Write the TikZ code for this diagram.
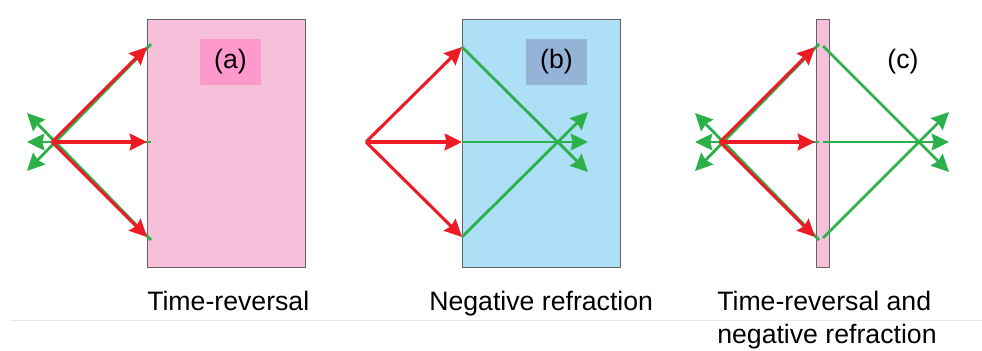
\documentclass[tikz,border=0pt]{standalone}
\usepackage{fontspec}
\setmainfont{Liberation Sans}
\usetikzlibrary{arrows.meta}
\definecolor{rayR}{RGB}{237, 28, 36}
\definecolor{rayG}{RGB}{43, 176, 74}
\definecolor{slabPink}{RGB}{246, 192, 218}
\definecolor{tagPink}{RGB}{255, 153, 204}
\definecolor{slabBlue}{RGB}{173, 223, 247}
\definecolor{tagBlue}{RGB}{149, 179, 215}
\definecolor{slabEdge}{RGB}{100, 100, 100}
\definecolor{ruleGrey}{RGB}{232, 232, 232}

\tikzset{
  redray/.style={draw=rayR, line width=2.3pt, -{Stealth[length=13pt, width=12.5pt, inset=1.5pt]}},
  greenray/.style={draw=rayG, line width=2.1pt, -{Stealth[length=13pt, width=12.5pt, inset=1.5pt]}},
  slab/.style={draw=slabEdge, line width=0.75pt},
  caption/.style={anchor=base west, inner sep=0pt, align=left, font=\fontsize{20}{24.75}\selectfont},
  tag/.style={inner sep=0pt, minimum width=45.75pt, minimum height=34.5pt, font=\fontsize{20}{24}\selectfont}
}

\begin{document}
\begin{tikzpicture}[x=0.75pt, y=-0.75pt]
        \useasboundingbox (0,0) rectangle (982,350);
        \draw[ruleGrey, line width=0.75pt] (10,320) -- (982,320);

        % (a) time-reversal
        \fill[slabPink] (147,19) rectangle (305,267);
        \draw[slab] (147,19) rectangle (305,267);
        \node[tag, fill=tagPink] (tagA) at (230.5,62) {(a)};
        \coordinate (a-src) at (52,142);
        \coordinate (a-t) at (147,47);
        \coordinate (a-m) at (147,142);
        \coordinate (a-b) at (147,237);
        \coordinate (a-gt) at (151,44);
        \coordinate (a-gm) at (151,142);
        \coordinate (a-gb) at (151,240);
        \coordinate (a-ul) at (27,113);
        \coordinate (a-ml) at (27,142);
        \coordinate (a-ll) at (27,171);
        \draw[greenray] (a-gt) -- (a-ll);
        \draw[greenray] (a-gm) -- (a-ml);
        \draw[greenray] (a-gb) -- (a-ul);
        \draw[redray] (a-src) -- (a-t);
        \draw[redray] (a-src) -- (a-m);
        \draw[redray] (a-src) -- (a-b);
        \node[caption] (capA) at (147,310) {Time-reversal};

        % (b) negative refraction
        \fill[slabBlue] (462,19) rectangle (620,267);
        \draw[slab] (462,19) rectangle (620,267);
        \node[tag, fill=tagBlue] (tagB) at (556.5,62) {(b)};
        \coordinate (b-src) at (366,142);
        \coordinate (b-t) at (462,47);
        \coordinate (b-m) at (462,142);
        \coordinate (b-b) at (462,237);
        \coordinate (b-ur) at (588,112);
        \coordinate (b-mr) at (588,142);
        \coordinate (b-lr) at (588,172);
        \draw[greenray] (b-t) -- (b-lr);
        \draw[greenray] (b-m) -- (b-mr);
        \draw[greenray] (b-b) -- (b-ur);
        \draw[redray] (b-src) -- (b-t);
        \draw[redray] (b-src) -- (b-m);
        \draw[redray] (b-src) -- (b-b);
        \node[caption] (capB) at (429,310) {Negative refraction};

        % (c) both, thin slab
        \fill[slabPink] (816,19) rectangle (829,267);
        \draw[slab] (816,19) rectangle (829,267);
        \node[tag] (tagC) at (903,62) {(c)};
        \coordinate (c-src) at (720,142);
        \coordinate (c-t) at (815,47);
        \coordinate (c-m) at (815,142);
        \coordinate (c-b) at (815,237);
        \coordinate (c-gt) at (819,44);
        \coordinate (c-gm) at (819,142);
        \coordinate (c-gb) at (819,240);
        \coordinate (c-ul) at (695,113);
        \coordinate (c-ml) at (695,142);
        \coordinate (c-ll) at (695,171);
        \coordinate (c-rt) at (823,46);
        \coordinate (c-rm) at (823,142);
        \coordinate (c-rb) at (823,238);
        \coordinate (c-ur) at (949,112);
        \coordinate (c-mr) at (949,142);
        \coordinate (c-lr) at (949,172);
        \draw[greenray] (c-gt) -- (c-ll);
        \draw[greenray] (c-gm) -- (c-ml);
        \draw[greenray] (c-gb) -- (c-ul);
        \draw[greenray] (c-rt) -- (c-lr);
        \draw[greenray] (c-rm) -- (c-mr);
        \draw[greenray] (c-rb) -- (c-ur);
        \draw[redray] (c-src) -- (c-t);
        \draw[redray] (c-src) -- (c-m);
        \draw[redray] (c-src) -- (c-b);
        \node[caption] (capC) at (717,343) {Time-reversal and\\negative refraction};
\end{tikzpicture}
\end{document}
